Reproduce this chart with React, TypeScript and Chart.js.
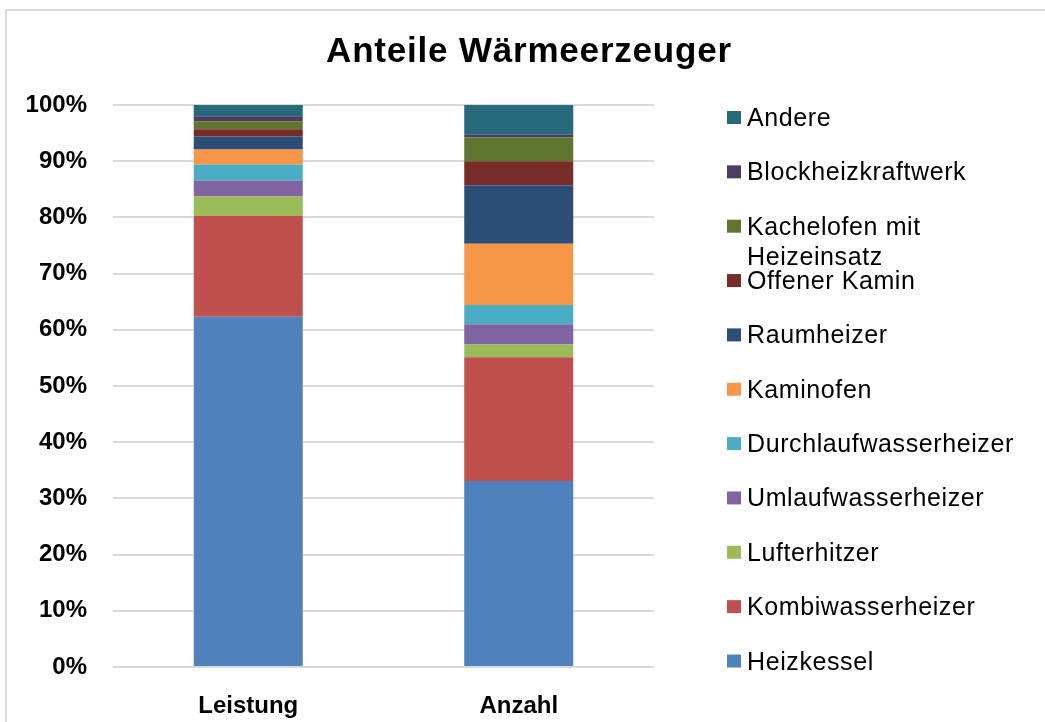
import { useEffect, useRef } from "react";
import { Chart, registerables } from "chart.js";

Chart.register(...registerables);

const categories = ["Leistung", "Anzahl"];
const seriesNames = [
  "Heizkessel",
  "Kombiwasserheizer",
  "Lufterhitzer",
  "Umlaufwasserheizer",
  "Durchlaufwasserheizer",
  "Kaminofen",
  "Raumheizer",
  "Offener Kamin",
  "Kachelofen mit Heizeinsatz",
  "Blockheizkraftwerk",
  "Andere",
];
const legendLines: string[][] = [
  ["Heizkessel"],
  ["Kombiwasserheizer"],
  ["Lufterhitzer"],
  ["Umlaufwasserheizer"],
  ["Durchlaufwasserheizer"],
  ["Kaminofen"],
  ["Raumheizer"],
  ["Offener Kamin"],
  ["Kachelofen mit", "Heizeinsatz"],
  ["Blockheizkraftwerk"],
  ["Andere"],
];

const heizkessel = [62.3, 33.1];
const kombiwasserheizer = [18.0, 22.0];
const lufterhitzer = [3.4, 2.3];
const umlaufwasserheizer = [2.8, 3.6];
const durchlaufwasserheizer = [2.9, 3.4];
const kaminofen = [2.7, 10.9];
const raumheizer = [2.3, 10.4];
const offenerKamin = [1.3, 4.3];
const kachelofen = [1.4, 4.2];
const blockheizkraftwerk = [0.9, 0.5];
const andere = [2.0, 5.3];

const seriesValues = [
  heizkessel,
  kombiwasserheizer,
  lufterhitzer,
  umlaufwasserheizer,
  durchlaufwasserheizer,
  kaminofen,
  raumheizer,
  offenerKamin,
  kachelofen,
  blockheizkraftwerk,
  andere,
];

const colors = [
  "#4F81BD",
  "#C0504D",
  "#9BBB59",
  "#8064A2",
  "#4BACC6",
  "#F79646",
  "#2C4D75",
  "#772C2A",
  "#5F7530",
  "#4D3B62",
  "#276A7C",
];

const yTickValues = [0, 10, 20, 30, 40, 50, 60, 70, 80, 90, 100];
const titleText = "Anteile Wärmeerzeuger";

const FONT = '"Liberation Sans", Arial, sans-serif';

const decorPlugin = {
  id: "decor",
  beforeDraw(chart: any) {
    const ctx = chart.ctx;
    ctx.save();
    ctx.fillStyle = "#ffffff";
    ctx.fillRect(0, 0, chart.width, chart.height);
    ctx.fillStyle = "#d9d9d9";
    ctx.fillRect(5, 9, 2, chart.height);
    ctx.fillRect(5, 9, chart.width, 2);
    ctx.restore();
  },
  afterDraw(chart: any) {
    const ctx = chart.ctx;
    ctx.save();
    // title
    ctx.fillStyle = "#000000";
    ctx.font = `bold 35px ${FONT}`;
    (ctx as any).letterSpacing = "0.8px";
    ctx.textAlign = "center";
    ctx.textBaseline = "alphabetic";
    ctx.fillText(titleText, 529, 62);

    // legend (reverse order)
    ctx.font = `25px ${FONT}`;
    (ctx as any).letterSpacing = "0.6px";
    ctx.textAlign = "left";
    const ds = chart.data.datasets;
    const n = ds.length;
    for (let k = 0; k < n; k++) {
      const idx = n - 1 - k;
      const cy = 117.5 + k * 54.35;
      ctx.fillStyle = ds[idx].backgroundColor;
      ctx.fillRect(727, cy - 6.5, 14, 13);
      ctx.fillStyle = "#000000";
      const lines = legendLines[idx];
      lines.forEach((line, li) => {
        ctx.fillText(line, 747, cy + 8.5 + li * 30);
      });
    }
    ctx.restore();
  },
};

export default function App() {
  const ref = useRef<HTMLCanvasElement | null>(null);

  useEffect(() => {
    if (!ref.current) return;
    const chart = new Chart(ref.current, {
      type: "bar",
      data: {
        labels: categories,
        datasets: seriesNames.map((name, i) => ({
          label: name,
          data: seriesValues[i],
          backgroundColor: colors[i],
          borderWidth: 0,
          categoryPercentage: 1,
          barPercentage: 0.403,
        })),
      },
      options: {
        responsive: false,
        animation: false,
        devicePixelRatio: 1,
        layout: { padding: { left: 0, top: 105, right: 391, bottom: 0 } },
        plugins: {
          legend: { display: false },
          title: { display: false },
          tooltip: { enabled: false },
        },
        scales: {
          x: {
            stacked: true,
            grid: { display: false },
            border: { display: false },
            ticks: {
              color: "#000000",
              font: { family: FONT, size: 24, weight: "bold" },
              padding: 17,
              maxRotation: 0,
            },
            afterFit(scale: any) {
              scale.height = 55;
            },
          },
          y: {
            stacked: true,
            min: 0,
            max: 100,
            afterBuildTicks(scale: any) {
              scale.ticks = yTickValues.map((v) => ({ value: v }));
            },
            grid: { color: "#d9d9d9", lineWidth: 2, drawTicks: false },
            border: { display: false },
            ticks: {
              color: "#000000",
              font: { family: FONT, size: 24, weight: "bold" },
              padding: 26,
              callback: (v: any) => `${v}%`,
            },
            afterFit(scale: any) {
              scale.width = 113;
            },
          },
        },
      },
      plugins: [decorPlugin],
    });
    return () => chart.destroy();
  }, []);

  return (
    <div style={{ position: "absolute", left: 0, top: 0, width: 1045, height: 722 }}>
      <canvas ref={ref} width={1045} height={722} style={{ width: 1045, height: 722, display: "block" }} />
    </div>
  );
}
